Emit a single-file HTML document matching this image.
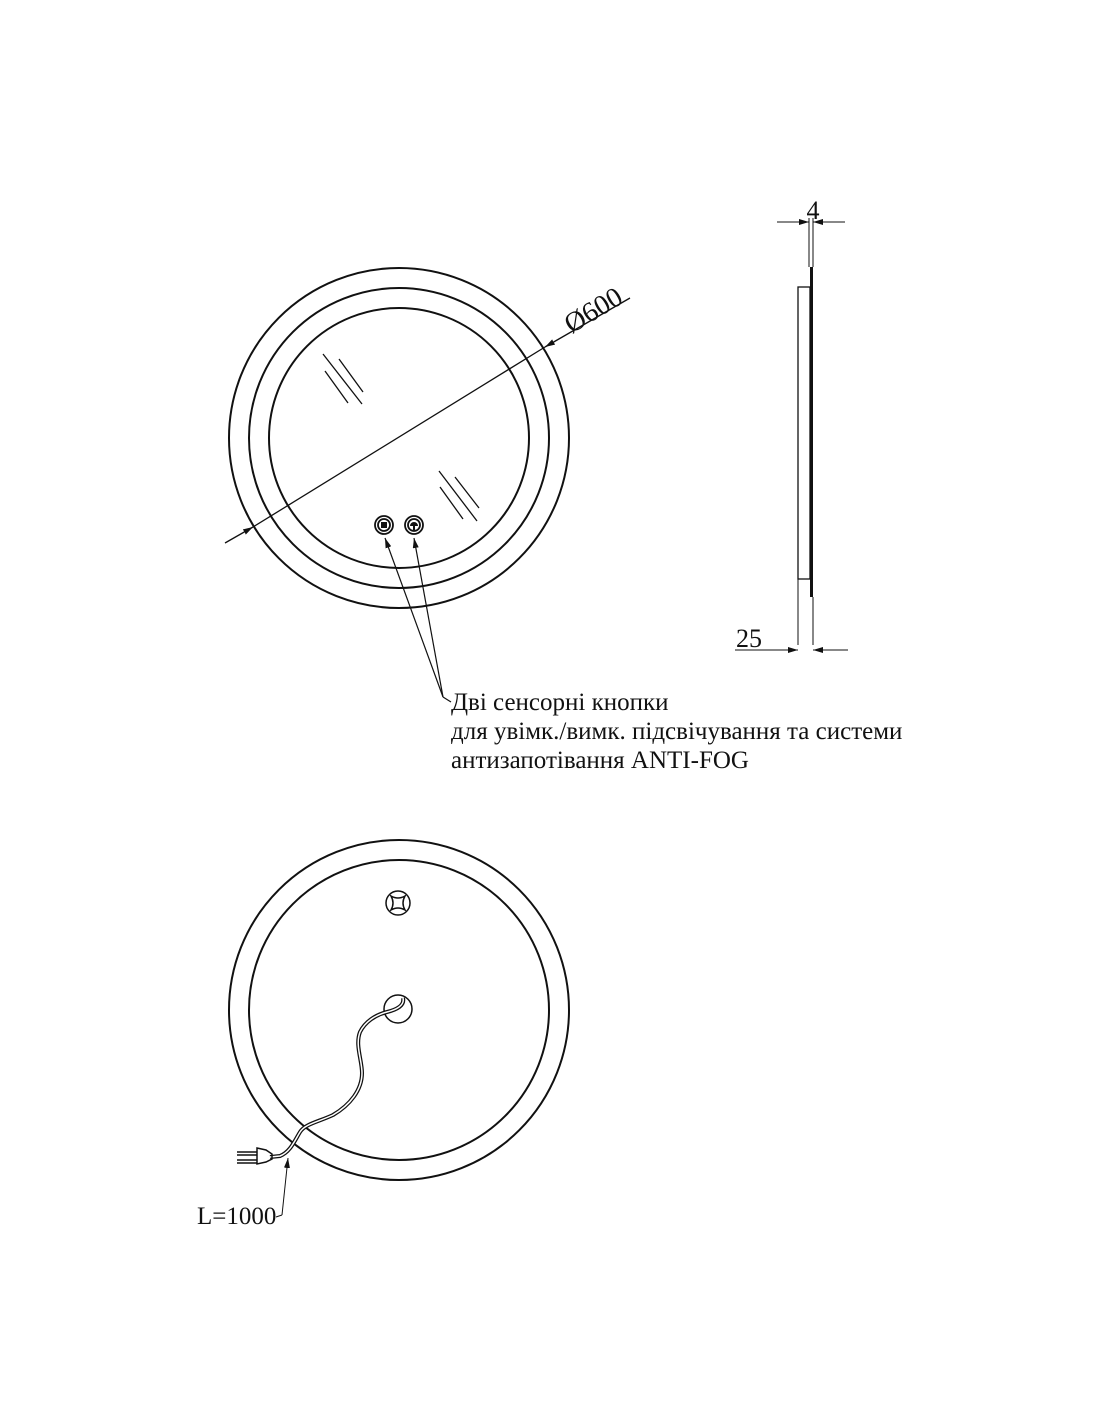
<!DOCTYPE html>
<html><head><meta charset="utf-8"><style>html,body{margin:0;padding:0;background:#fff}svg{display:block}</style></head>
<body>
<svg width="1100" height="1422" viewBox="0 0 1100 1422" xmlns="http://www.w3.org/2000/svg">
<defs>
<marker id="ar" viewBox="0 0 10 6" refX="10" refY="3" markerWidth="10" markerHeight="6" orient="auto" markerUnits="userSpaceOnUse"><path d="M0,0 L10,3 L0,6z" fill="#111"/></marker>
</defs>
<g fill="none" stroke="#111" stroke-width="2">
<circle cx="399" cy="438" r="170"/>
<circle cx="399" cy="438" r="150"/>
<circle cx="399" cy="438" r="130"/>
</g>
<g stroke="#111" stroke-width="1.3" fill="none">
<line x1="225" y1="543" x2="253" y2="527" marker-end="url(#ar)"/>
<line x1="253" y1="527" x2="545" y2="347"/>
<line x1="630" y1="298" x2="545" y2="347" marker-end="url(#ar)"/>
<line x1="323" y1="354" x2="362" y2="404"/>
<line x1="325" y1="371" x2="348" y2="403"/>
<line x1="339" y1="359" x2="363" y2="392"/>
<line x1="439" y1="471" x2="477" y2="521"/>
<line x1="440" y1="487" x2="463" y2="519"/>
<line x1="455" y1="477" x2="479" y2="508"/>
</g>
<text x="598" y="318" transform="rotate(-31 598 318)" font-family="Liberation Serif, serif" font-size="28" text-anchor="middle" fill="#111">Ø600</text>
<g fill="none" stroke="#111" stroke-width="1.8">
<circle cx="384" cy="525" r="9"/><circle cx="384" cy="525" r="6"/>
<circle cx="414" cy="525" r="9"/><circle cx="414" cy="525" r="6"/>
</g>
<rect x="381" y="522" width="6" height="6" fill="#111"/>
<path d="M410 526 a4 4 0 0 1 8 0z M413 526 h2 v4 h-2z" fill="#111"/>
<g stroke="#111" stroke-width="1.2" fill="none">
<line x1="443" y1="697" x2="385" y2="538" marker-end="url(#ar)"/>
<line x1="443" y1="697" x2="414" y2="538" marker-end="url(#ar)"/>
<line x1="443" y1="697" x2="451" y2="702"/>
</g>
<g font-family="Liberation Serif, serif" font-size="25" fill="#111">
<text x="451" y="710">Дві сенсорні кнопки</text>
<text x="451" y="739">для увімк./вимк. підсвічування та системи</text>
<text x="451" y="768">антизапотівання ANTI-FOG</text>
</g>
<rect x="810" y="267" width="3" height="330" fill="#111"/>
<rect x="798" y="287" width="12" height="292" fill="none" stroke="#111" stroke-width="1.3"/>
<g stroke="#111" stroke-width="1" fill="none">
<line x1="809" y1="218" x2="809" y2="267"/>
<line x1="813" y1="218" x2="813" y2="267"/>
<line x1="777" y1="222" x2="809" y2="222" marker-end="url(#ar)"/>
<line x1="845" y1="222" x2="813" y2="222" marker-end="url(#ar)"/>
<line x1="798" y1="579" x2="798" y2="645"/>
<line x1="813" y1="597" x2="813" y2="645"/>
<line x1="735" y1="650" x2="798" y2="650" marker-end="url(#ar)"/>
<line x1="848" y1="650" x2="813" y2="650" marker-end="url(#ar)"/>
</g>
<text x="813" y="219" font-family="Liberation Serif, serif" font-size="26" fill="#111" text-anchor="middle">4</text>
<text x="736" y="647" font-family="Liberation Serif, serif" font-size="26" fill="#111">25</text>
<g fill="none" stroke="#111" stroke-width="2">
<circle cx="399" cy="1010" r="170"/>
<circle cx="399" cy="1010" r="150"/>
</g>
<g fill="none" stroke="#111" stroke-width="1.5">
<circle cx="398" cy="903" r="12"/>
<path d="M391 896 q7 4 14 0 q-4 7 0 14 q-7 -4 -14 0 q4 -7 0 -14z"/>
<circle cx="398" cy="1009" r="14"/>
</g>
<path d="M403 998 C405 1006 395 1010 387 1012 C375 1015 365 1022 360 1032 C355 1045 362 1060 362 1073 C362 1090 350 1105 333 1115 C318 1122 305 1124 300 1132 C294 1142 290 1152 280 1156 L270 1157" fill="none" stroke="#111" stroke-width="4"/>
<path d="M403 998 C405 1006 395 1010 387 1012 C375 1015 365 1022 360 1032 C355 1045 362 1060 362 1073 C362 1090 350 1105 333 1115 C318 1122 305 1124 300 1132 C294 1142 290 1152 280 1156 L270 1157" fill="none" stroke="#fff" stroke-width="1.5"/>
<g fill="none" stroke="#111" stroke-width="1.5">
<path d="M257 1148 L266 1150 L272 1154 L272 1159 L266 1162 L257 1164z"/>
<line x1="237" y1="1152" x2="257" y2="1152"/><line x1="237" y1="1155" x2="257" y2="1155"/>
<line x1="237" y1="1160" x2="257" y2="1160"/><line x1="237" y1="1163" x2="257" y2="1163"/>
</g>
<g stroke="#111" stroke-width="1" fill="none">
<line x1="282" y1="1215" x2="288" y2="1158" marker-end="url(#ar)"/>
<line x1="276" y1="1217" x2="282" y2="1215"/>
</g>
<text x="197" y="1224" font-family="Liberation Serif, serif" font-size="25" fill="#111">L=1000</text>
</svg>
</body></html>
